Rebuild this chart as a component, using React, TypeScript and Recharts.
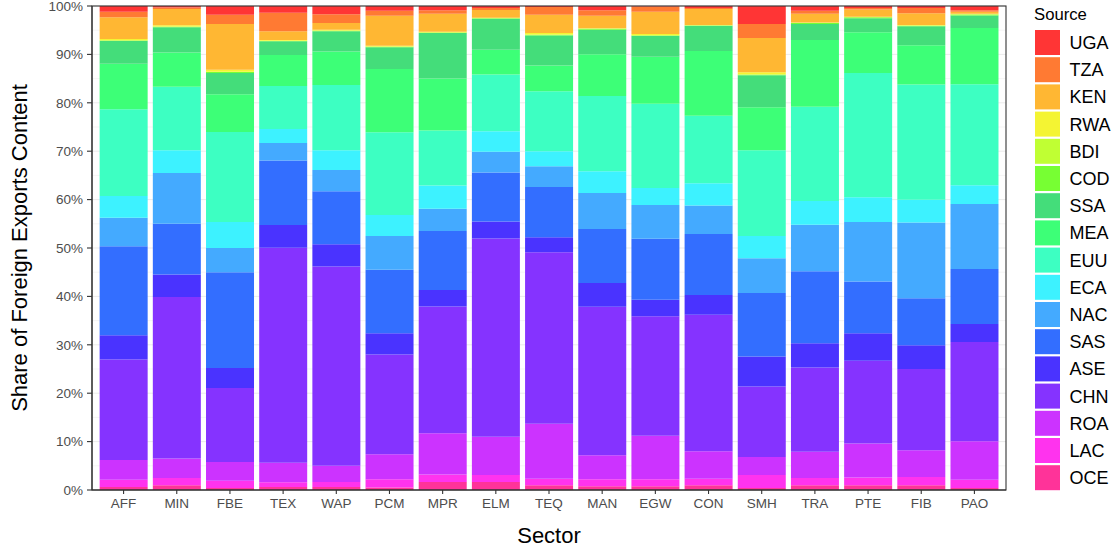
import React from 'react';
import { BarChart, Bar, XAxis, YAxis, CartesianGrid, Label } from 'recharts';

const FONT = '"Liberation Sans", Arial, Helvetica, sans-serif';
const W = 1117;
const H = 549;

const sectors = ['AFF', 'MIN', 'FBE', 'TEX', 'WAP', 'PCM', 'MPR', 'ELM', 'TEQ', 'MAN', 'EGW', 'CON', 'SMH', 'TRA', 'PTE', 'FIB', 'PAO'];

// stacking order: bottom to top
const sources = ['OCE', 'LAC', 'ROA', 'CHN', 'ASE', 'SAS', 'NAC', 'ECA', 'EUU', 'MEA', 'SSA', 'COD', 'BDI', 'RWA', 'KEN', 'TZA', 'UGA'];

const sourceColors: Record<string, string> = {
  UGA: '#FF3535',
  TZA: '#FF7A33',
  KEN: '#FFB733',
  RWA: '#F4F433',
  BDI: '#C0FF33',
  COD: '#77FF33',
  SSA: '#44DD7A',
  MEA: '#3DFF77',
  EUU: '#3DFFC2',
  ECA: '#3DF2FF',
  NAC: '#44AAFF',
  SAS: '#336EFF',
  ASE: '#4A33FF',
  CHN: '#8533FF',
  ROA: '#CC33FF',
  LAC: '#FF33EE',
  OCE: '#FF3399',
};

// values (percent of foreign exports content), per sector in the order above
const OCE = [0.6, 1.0, 0.4, 0.6, 0.6, 0.5, 1.65, 1.65, 1.0, 0.8, 0.8, 1.0, 0.4, 1.0, 1.0, 1.0, 0.4];
const LAC = [1.5, 1.5, 1.5, 1.0, 1.05, 1.7, 1.55, 1.45, 1.3, 1.4, 1.4, 1.3, 2.7, 1.5, 1.6, 1.7, 1.7];
const ROA = [4.1, 4.0, 3.9, 4.0, 3.35, 5.2, 8.5, 7.9, 11.4, 5.0, 9.0, 5.7, 3.7, 5.4, 7.0, 5.5, 8.0];
const CHN = [20.8, 33.4, 15.3, 44.4, 41.2, 20.6, 26.2, 40.9, 35.4, 30.7, 24.7, 28.2, 14.6, 17.4, 17.1, 16.8, 20.5];
const ASE = [5.0, 4.6, 4.1, 4.7, 4.6, 4.4, 3.4, 3.5, 3.1, 4.9, 3.4, 4.1, 6.2, 5.0, 5.7, 4.9, 3.7];
const SAS = [18.4, 10.5, 19.8, 13.3, 10.9, 13.1, 12.2, 10.1, 10.4, 11.2, 12.6, 12.6, 13.1, 14.9, 10.7, 9.7, 11.4];
const NAC = [5.9, 10.5, 5.0, 3.6, 4.4, 7.0, 4.6, 4.3, 4.3, 7.4, 7.0, 5.9, 7.2, 9.6, 12.3, 15.6, 13.4];
const ECA = [4.5, 4.7, 5.4, 2.9, 4.1, 4.3, 4.8, 4.2, 3.1, 4.5, 3.5, 4.6, 4.6, 4.9, 5.1, 4.7, 3.9];
const EUU = [17.9, 13.1, 18.6, 8.9, 13.5, 17.1, 11.4, 11.7, 12.4, 15.6, 17.4, 13.9, 17.7, 19.5, 25.7, 23.8, 20.9];
const MEA = [9.4, 7.1, 7.8, 6.4, 6.9, 13.1, 10.7, 5.1, 5.3, 8.6, 9.7, 13.4, 8.9, 13.8, 8.4, 8.1, 11.6];
const SSA = [4.7, 5.2, 4.4, 2.8, 4.2, 4.5, 9.4, 6.4, 6.2, 5.1, 4.3, 5.2, 6.6, 3.3, 2.9, 3.9, 2.6];
const COD = [0.1, 0.1, 0.2, 0.1, 0.1, 0.1, 0.1, 0.1, 0.1, 0.2, 0.1, 0.05, 0.1, 0.2, 0.2, 0.1, 0.2];
const BDI = [0.05, 0.05, 0.05, 0.05, 0.05, 0.05, 0.05, 0.05, 0.1, 0.05, 0.05, 0.05, 0.1, 0.05, 0.05, 0.05, 0.05];
const RWA = [0.3, 0.25, 0.4, 0.15, 0.15, 0.15, 0.15, 0.1, 0.3, 0.05, 0.25, 0.1, 0.4, 0.05, 0.1, 0.15, 0.1];
const KEN = [4.5, 3.4, 9.5, 1.8, 1.4, 6.2, 3.7, 1.6, 3.8, 2.6, 4.6, 3.3, 7.1, 1.8, 1.5, 2.4, 0.4];
const TZA = [1.1, 0.3, 1.9, 3.8, 1.8, 1.0, 0.7, 0.4, 1.6, 1.1, 1.1, 0.2, 2.9, 0.6, 0.3, 1.1, 0.3];
const UGA = [1.2, 0.3, 1.8, 1.4, 1.7, 1.0, 0.9, 0.4, 0.2, 0.9, 0.1, 0.4, 3.7, 1.0, 0.4, 0.4, 0.9];

const seriesValues: Record<string, number[]> = { OCE, LAC, ROA, CHN, ASE, SAS, NAC, ECA, EUU, MEA, SSA, COD, BDI, RWA, KEN, TZA, UGA };

const yTicks = [0, 0.1, 0.2, 0.3, 0.4, 0.5, 0.6, 0.7, 0.8, 0.9, 1];
const yMinorTicks = [0.05, 0.15, 0.25, 0.35, 0.45, 0.55, 0.65, 0.75, 0.85, 0.95];

const data = sectors.map((sector, i) => {
  const row: Record<string, any> = { sector };
  sources.forEach((src) => {
    row[src] = seriesValues[src][i];
  });
  return row;
});

const minorGen = (props: any) => {
  const { yAxis, offset } = props || {};
  const s = yAxis && yAxis.scale;
  return yMinorTicks.map((v) =>
    typeof s === 'function' ? s(v) : offset.top + offset.height * (1 - v)
  );
};

const XTitle = (props: any) => {
  const vb = props.viewBox || { x: 92, y: 490, width: 914, height: 59 };
  return (
    <text x={vb.x + vb.width / 2} y={vb.y + vb.height - 6} textAnchor="middle" fontSize={22} fill="#000" fontFamily={FONT}>
      Sector
    </text>
  );
};

const YTitle = (props: any) => {
  const vb = props.viewBox || { x: 0, y: 6, width: 92, height: 484 };
  const x = vb.x + 27;
  const y = vb.y + vb.height / 2;
  return (
    <text x={x} y={y} transform={`rotate(-90 ${x} ${y})`} textAnchor="middle" fontSize={22} fill="#000" fontFamily={FONT}>
      Share of Foreign Exports Content
    </text>
  );
};

const legendOrder = [...sources].reverse();

export default function App() {
  return (
    <div style={{ position: 'absolute', left: 0, top: 0, width: W, height: H, background: '#fff', fontFamily: FONT }}>
      <BarChart
        width={W}
        height={H}
        data={data}
        stackOffset="expand"
        margin={{ top: 6, right: 111, bottom: 0, left: 0 }}
        barCategoryGap="5%"
      >
        <CartesianGrid vertical={false} horizontalCoordinatesGenerator={minorGen} stroke="#F1F1F1" strokeWidth={0.7} />
        <CartesianGrid vertical={false} stroke="#EBEBEB" strokeWidth={1} />
        <XAxis
          dataKey="sector"
          height={59}
          padding={{ left: 5, right: 5 }}
          interval={0}
          tickSize={4}
          tickMargin={4}
          tick={{ fill: '#4D4D4D', fontSize: 13.5, fontFamily: FONT }}
          axisLine={{ stroke: '#333333', strokeWidth: 1.1 }}
          tickLine={{ stroke: '#333333', strokeWidth: 1.1 }}
        >
          <Label content={XTitle} />
        </XAxis>
        <YAxis
          width={92}
          domain={[0, 1]}
          ticks={yTicks}
          interval={0}
          tickFormatter={(v: number) => `${Math.round(v * 100)}%`}
          tickSize={5}
          tickMargin={4}
          tick={{ fill: '#4D4D4D', fontSize: 13.5, fontFamily: FONT }}
          axisLine={{ stroke: '#333333', strokeWidth: 1.1 }}
          tickLine={{ stroke: '#333333', strokeWidth: 1.1 }}
        >
          <Label content={YTitle} />
        </YAxis>
        {sources.map((src) => (
          <Bar key={src} dataKey={src} stackId="s" fill={sourceColors[src]} isAnimationActive={false} />
        ))}
      </BarChart>
      <svg width={W} height={H} style={{ position: 'absolute', left: 0, top: 0, pointerEvents: 'none' }}>
        <rect x={92} y={6} width={914} height={484} fill="none" stroke="#333333" strokeWidth={1.1} />
        <text x={1034} y={19.5} fontSize={16.7} fill="#000" fontFamily={FONT}>
          Source
        </text>
        {legendOrder.map((src, i) => {
          const top = 30 + i * 27.2;
          return (
            <g key={src}>
              <rect x={1035} y={top} width={25} height={25} fill={sourceColors[src]} />
              <text x={1069.5} y={top + 19} fontSize={18} fill="#000" fontFamily={FONT}>
                {src}
              </text>
            </g>
          );
        })}
      </svg>
    </div>
  );
}
